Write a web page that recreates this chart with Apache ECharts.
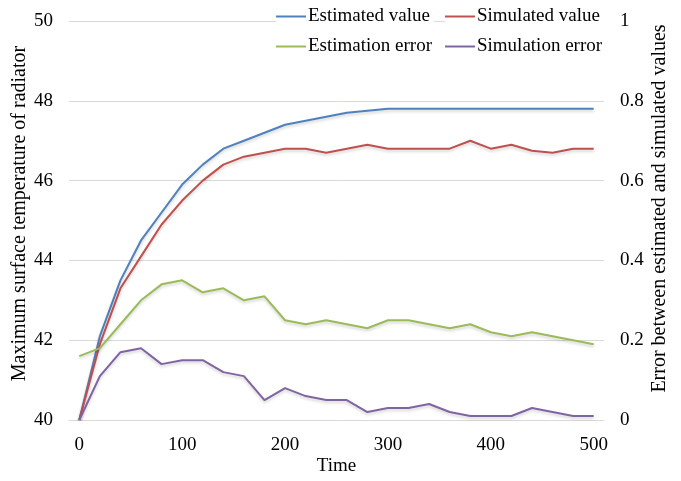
<!DOCTYPE html>
<html>
<head>
<meta charset="utf-8">
<script src="https://cdn.jsdelivr.net/npm/echarts@6/dist/echarts.min.js"></script>
<style>html,body{margin:0;padding:0;background:#fff;}#c{width:681px;height:481px;}</style>
</head>
<body>
<div id="c"></div>
<script>
var times = [0,20,40,60,80,100,120,140,160,180,200,220,240,260,280,300,320,340,360,380,400,420,440,460,480,500];
var estimatedValue = [40,42.1,43.5,44.5,45.2,45.9,46.4,46.8,47.0,47.2,47.4,47.5,47.6,47.7,47.75,47.8,47.8,47.8,47.8,47.8,47.8,47.8,47.8,47.8,47.8,47.8];
var simulatedValue = [40,41.9,43.3,44.1,44.9,45.5,46.0,46.4,46.6,46.7,46.8,46.8,46.7,46.8,46.9,46.8,46.8,46.8,46.8,47.0,46.8,46.9,46.75,46.7,46.8,46.8];
var estimationError = [0.16,0.18,0.24,0.30,0.34,0.35,0.32,0.33,0.30,0.31,0.25,0.24,0.25,0.24,0.23,0.25,0.25,0.24,0.23,0.24,0.22,0.21,0.22,0.21,0.20,0.19];
var simulationError = [0,0.11,0.17,0.18,0.14,0.15,0.15,0.12,0.11,0.05,0.08,0.06,0.05,0.05,0.02,0.03,0.03,0.04,0.02,0.01,0.01,0.01,0.03,0.02,0.01,0.01];
var xTicks = [0,100,200,300,400,500];
var seriesNames = ['Estimated value','Simulated value','Estimation error','Simulation error'];
var colors = ['#4F81BD','#C0504D','#9BBB59','#8064A2'];

function pairs(vals){ return times.map(function(t,i){ return [t, vals[i]]; }); }

var font = 'Liberation Serif';
var fs = 19;
var tfs = 20;
var chart = echarts.init(document.getElementById('c'), null, {renderer:'canvas'});
function lineSeries(name, vals, yIdx, color){
  return {
    name: name, type: 'line', yAxisIndex: yIdx, data: pairs(vals),
    showSymbol: false, symbol: 'none', smooth: false,
    lineStyle: {color: color, width: 2, shadowColor: 'rgba(0,0,0,0.18)', shadowBlur: 3, shadowOffsetY: 2},
    itemStyle: {color: color}
  };
}
var legendCommon = {
  orient: 'vertical', itemWidth: 30, itemHeight: 2, itemGap: 11,
  icon: 'rect', backgroundColor: '#fff', padding: [2,2,2,0],
  textStyle: {fontFamily: font, fontSize: fs, color: '#000', padding: [0,0,0,-3]}
};
chart.setOption({
  animation: false,
  backgroundColor: '#fff',
  color: colors,
  grid: {left: 69, right: 77, top: 21, bottom: 61, containLabel: false, outerBoundsMode: 'none'},
  legend: [
    Object.assign({}, legendCommon, {left: 276, top: 5, data: [seriesNames[0], seriesNames[2]]}),
    Object.assign({}, legendCommon, {left: 445, top: 5, data: [seriesNames[1], seriesNames[3]], padding: [2,4,2,0]})
  ],
  xAxis: {
    type: 'value', min: -10, max: 510,
    name: 'Time', nameLocation: 'middle', nameGap: 37, nameMoveOverlap: false,
    nameTextStyle: {fontFamily: font, fontSize: fs, color: '#000'},
    axisLine: {show: true, lineStyle: {color: '#d9d9d9', width: 1}},
    axisTick: {show: false},
    splitLine: {show: false},
    axisLabel: {customValues: xTicks, fontFamily: font, fontSize: fs, color: '#000', margin: 16}
  },
  yAxis: [
    {
      type: 'value', min: 40, max: 50, interval: 2,
      name: 'Maximum surface temperature of radiator', nameLocation: 'middle', nameGap: 39, nameMoveOverlap: false,
      nameTextStyle: {fontFamily: font, fontSize: tfs, color: '#000', padding: [0,0,0,14]},
      axisLine: {show: false}, axisTick: {show: false},
      splitLine: {show: true, lineStyle: {color: '#d9d9d9', width: 1}},
      axisLabel: {fontFamily: font, fontSize: fs, color: '#000', margin: 16}
    },
    {
      type: 'value', min: 0, max: 1, interval: 0.2, position: 'right',
      name: 'Error between estimated and simulated values', nameLocation: 'middle', nameGap: 46, nameMoveOverlap: false,
      nameTextStyle: {fontFamily: font, fontSize: tfs, color: '#000', padding: [0,0,0,24]},
      axisLine: {show: false}, axisTick: {show: false},
      splitLine: {show: false},
      axisLabel: {fontFamily: font, fontSize: fs, color: '#000', margin: 16,
        formatter: function(v){ return String(Math.round(v*10)/10); }}
    }
  ],
  series: [
    lineSeries(seriesNames[0], estimatedValue, 0, colors[0]),
    lineSeries(seriesNames[1], simulatedValue, 0, colors[1]),
    lineSeries(seriesNames[2], estimationError, 1, colors[2]),
    lineSeries(seriesNames[3], simulationError, 1, colors[3])
  ]
});
</script>
</body>
</html>
